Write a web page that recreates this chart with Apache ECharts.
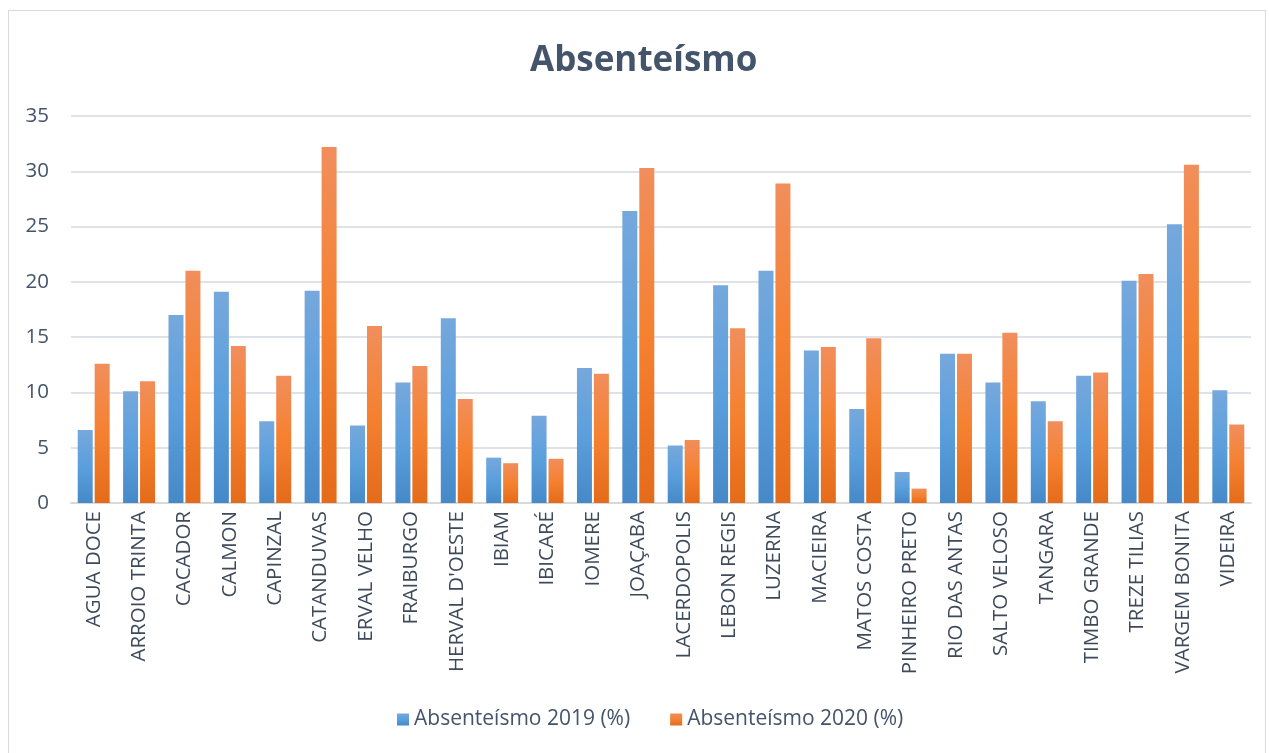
<!DOCTYPE html>
<html>
<head>
<meta charset="utf-8">
<script src="https://cdn.jsdelivr.net/npm/echarts@6/dist/echarts.min.js"></script>
<style>
  html, body { margin: 0; padding: 0; background: #fff; }
  #frame {
    position: absolute; left: 8px; top: 10px; width: 1258px; height: 760px;
    border: 1px solid #d9d9d9; box-sizing: border-box;
  }
  #chart { position: absolute; left: 0; top: 0; width: 1269px; height: 753px; }
</style>
</head>
<body>
<div id="frame"></div>
<div id="chart"></div>
<script>
const categories = [
  'AGUA DOCE', 'ARROIO TRINTA', 'CACADOR', 'CALMON', 'CAPINZAL', 'CATANDUVAS',
  'ERVAL VELHO', 'FRAIBURGO', "HERVAL D'OESTE", 'IBIAM', 'IBICARÉ', 'IOMERE',
  'JOAÇABA', 'LACERDOPOLIS', 'LEBON REGIS', 'LUZERNA', 'MACIEIRA', 'MATOS COSTA',
  'PINHEIRO PRETO', 'RIO DAS ANTAS', 'SALTO VELOSO', 'TANGARA', 'TIMBO GRANDE',
  'TREZE TILIAS', 'VARGEM BONITA', 'VIDEIRA'
];
const abs2019 = [
  6.6, 10.1, 17.0, 19.1, 7.4, 19.2, 7.0, 10.9, 16.7, 4.1, 7.9, 12.2,
  26.4, 5.2, 19.7, 21.0, 13.8, 8.5, 2.8, 13.5, 10.9, 9.2, 11.5, 20.1, 25.2, 10.2
];
const abs2020 = [
  12.6, 11.0, 21.0, 14.2, 11.5, 32.2, 16.0, 12.4, 9.4, 3.6, 4.0, 11.7,
  30.3, 5.7, 15.8, 28.9, 14.1, 14.9, 1.3, 13.5, 15.4, 7.4, 11.8, 20.7, 30.6, 7.1
];
const seriesNames = ['Absenteísmo 2019 (%)', 'Absenteísmo 2020 (%)'];
const yTicks = { min: 0, max: 35, interval: 5 };

const font = '"Open Sans", sans-serif';

function grad(top, mid, bottom) {
  return new echarts.graphic.LinearGradient(0, 0, 0, 1, [
    { offset: 0, color: top },
    { offset: 0.5, color: mid },
    { offset: 1, color: bottom }
  ]);
}

const chart = echarts.init(document.getElementById('chart'));
chart.setOption({
  animation: false,
  title: {
    text: 'Absenteísmo',
    left: 525,
    top: 39,
    textStyle: { fontFamily: font, fontSize: 35, fontWeight: 'bold', color: '#44546a' }
  },
  legend: {
    top: 704,
    left: 392,
    itemWidth: 12,
    itemHeight: 12,
    itemGap: 40,
    itemStyle: { borderWidth: 0 },
    icon: 'rect',
    textStyle: { fontFamily: font, fontSize: 21, color: '#44546a' },
    data: seriesNames
  },
  grid: { left: 71, right: 18, top: 116, bottom: 250 },
  xAxis: {
    type: 'category',
    data: categories,
    axisLine: { lineStyle: { color: '#d9d9d9', width: 2 } },
    axisTick: { show: false },
    axisLabel: {
      rotate: 90,
      interval: 0,
      margin: 8,
      fontFamily: font,
      fontSize: 20.5,
      color: '#3e4a5a'
    }
  },
  yAxis: {
    type: 'value',
    min: yTicks.min,
    max: yTicks.max,
    interval: yTicks.interval,
    axisLine: { show: false },
    axisTick: { show: false },
    splitLine: { lineStyle: { color: '#dfe3e8', width: 2 } },
    axisLabel: { fontFamily: font, fontSize: 20.5, color: '#44546a', margin: 22 }
  },
  series: [
    {
      name: seriesNames[0],
      type: 'bar',
      data: abs2019,
      barWidth: 15,
      barGap: '13%',
      itemStyle: { color: grad('#76a8dc', '#5b9fdd', '#4589c8') }
    },
    {
      name: seriesNames[1],
      type: 'bar',
      data: abs2020,
      barWidth: 15,
      itemStyle: { color: grad('#f18e5c', '#f58130', '#e46b1a') }
    }
  ]
});
</script>
</body>
</html>
